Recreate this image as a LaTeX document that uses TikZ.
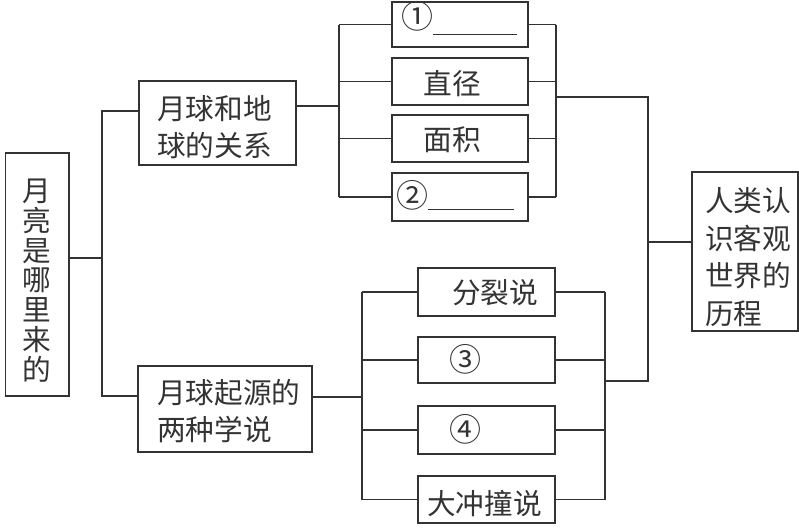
\documentclass[tikz,border=0pt]{standalone}
\usepackage{fontspec}
\newfontfamily\cjk{Noto Sans CJK SC}
\definecolor{ink}{HTML}{333333}
\newcommand\circnum[1]{{\fontsize{24pt}{24pt}\selectfont #1}}
\begin{document}
\begin{tikzpicture}[x=0.75pt,y=-0.75pt,
  bx/.style 2 args={draw=ink, line width=1.1pt, minimum width=#1*0.75pt, minimum height=#2*0.75pt, inner sep=0pt},
  ln/.style={draw=ink, line width=1.1pt},
  tx/.style={text=ink, inner sep=0pt, font=\cjk\fontsize{21.5pt}{27.4pt}\selectfont},
  vt/.style={text=ink, inner sep=0pt, align=center, font=\cjk\fontsize{21.5pt}{22.35pt}\selectfont},
  ml/.style={text=ink, inner sep=0pt, align=left, font=\cjk\fontsize{21.5pt}{27.4pt}\selectfont},
  ml2/.style={text=ink, inner sep=0pt, align=left, font=\cjk\fontsize{21.5pt}{28.1pt}\selectfont}]
\useasboundingbox (0,0) rectangle (799,529);
% boxes
\node[bx={63.5}{243}] (root) at (37.25,274.5) {};
\node[bx={157}{84}] (rel) at (217.5,123) {};
\node[bx={174}{86}] (ori) at (225,409) {};
\node[bx={136}{45}] (b1) at (460,24.5) {};
\node[bx={136}{47}] (b2) at (460,81.5) {};
\node[bx={136}{47}] (b3) at (460,138.5) {};
\node[bx={136}{48}] (b4) at (460,197) {};
\node[bx={106}{159}] (rt) at (745,251.5) {};
\node[bx={137}{48}] (c1) at (486.5,292) {};
\node[bx={137}{46}] (c2) at (486.5,360) {};
\node[bx={137}{48}] (c3) at (486.5,430) {};
\node[bx={137}{47}] (c4) at (486.5,499.5) {};
% texts
\node[vt] (roott) at (36.5,280.5) {月\\亮\\是\\哪\\里\\来\\的};
\node[ml, anchor=west] (relt) at (157,127) {月球和地\\球的关系};
\node[ml2, anchor=west] (orit) at (157,411) {月球起源的\\两种学说};
\node[ml2, anchor=west] (rtt) at (705,257) {人类认\\识客观\\世界的\\历程};
\node[tx, anchor=base west] (b1t) at (401,28.5) {\circnum{①}\rule[-5pt]{63pt}{0.8pt}};
\node[tx] (b2t) at (452.5,84) {直径};
\node[tx] (b3t) at (452.5,140) {面积};
\node[tx, anchor=base west] (b4t) at (396,207.5) {\circnum{②}\rule[-1.9pt]{64pt}{0.8pt}};
\node[tx] (c1t) at (495,292.5) {分裂说};
\node[tx] (c2t) at (465,359) {\circnum{③}};
\node[tx] (c3t) at (465,429) {\circnum{④}};
\node[tx] (c4t) at (484.5,503.5) {大冲撞说};
% junction coordinates
\coordinate (j0) at (102,258);
\coordinate (ja) at (102,111);
\coordinate (jb) at (102,396);
\coordinate (k) at (339,106);
\coordinate (m) at (556,97);
\coordinate (n1) at (648,97);
\coordinate (n3) at (648,242);
\coordinate (n2) at (648,381);
\coordinate (p) at (605,381);
\coordinate (q) at (362,397);
% connectors
\draw[ln] (root.east |- j0) -- (j0);
\draw[ln] (rel.west |- ja) -- (ja) -- (jb) -- (ori.west |- jb);
\draw[ln] (rel.east |- k) -- (k);
\draw[ln] (b1.west -| k) -- (b4.west -| k);
\foreach \b in {b1,b2,b3,b4} \draw[ln] (\b.west) -- (\b.west -| k);
\foreach \b in {b1,b2,b3,b4} \draw[ln] (\b.east) -- (\b.east -| m);
\draw[ln] (b1.east -| m) -- (b4.east -| m);
\draw[ln] (m) -- (n1) -- (n2) -- (p);
\draw[ln] (rt.west |- n3) -- (n3);
\draw[ln] (ori.east |- q) -- (q);
\draw[ln] (c1.west -| q) -- (c4.west -| q);
\foreach \c in {c1,c2,c3,c4} \draw[ln] (\c.west) -- (\c.west -| q);
\foreach \c in {c1,c2,c3,c4} \draw[ln] (\c.east) -- (\c.east -| p);
\draw[ln] (c1.east -| p) -- (c4.east -| p);
\end{tikzpicture}
\end{document}
